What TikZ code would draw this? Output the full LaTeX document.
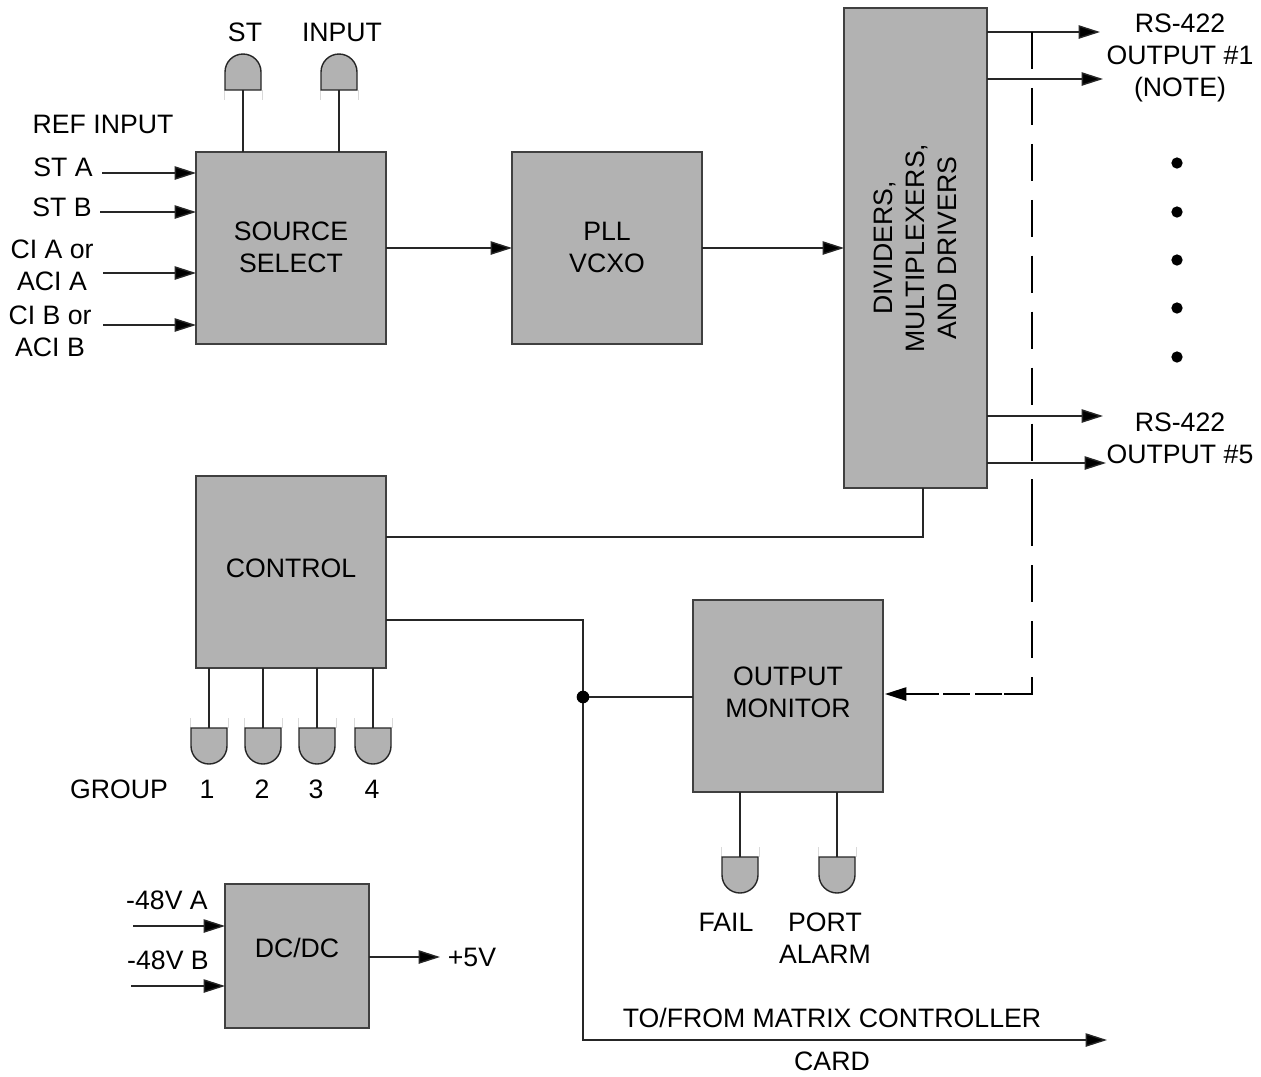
\documentclass[tikz,border=0pt]{standalone}
\usepackage{fontspec}
\setmainfont{Liberation Sans}
\usetikzlibrary{arrows.meta}
\newcommand{\ledup}[2]{% name, position: dome above the flat edge
  \coordinate (#1) at (#2);
  \draw[ledtick] (#1) ++(-19,0) -- ++(0,10);
  \draw[ledtick] (#1) ++(19,0) -- ++(0,10);
  \draw[led] (#1) ++(-18,0) -- ++(36,0) -- ++(0,-18) arc[start angle=0,end angle=180,radius=13.5pt] -- cycle;}
\newcommand{\leddown}[2]{% name, position: dome below the flat edge
  \coordinate (#1) at (#2);
  \draw[ledtick] (#1) ++(-19,0) -- ++(0,-10);
  \draw[ledtick] (#1) ++(19,0) -- ++(0,-10);
  \draw[led] (#1) ++(-18,0) -- ++(36,0) -- ++(0,18) arc[start angle=0,end angle=-180,radius=13.5pt] -- cycle;}
\tikzset{
  x=0.75pt,y=-0.75pt,
  every node/.style={font=\fontsize{20pt}{24pt}\selectfont,text=black,inner sep=0pt,outer sep=0pt,align=center},
  blockbox/.style={draw=black!75,line width=1.1pt,fill=boxgray,anchor=center},
  conn/.style={draw=black!85,line width=1.05pt},
  headtip/.style={-{Stealth[length=16pt,width=10pt,inset=0pt,fill=black]}},
  arr/.style={conn,headtip},
  dashline/.style={conn,draw=black,headtip,dash pattern=on 27.75pt off 14.2pt on 27.75pt off 14.2pt on 27.75pt off 14.2pt on 27.75pt off 14.2pt on 27.75pt off 14.2pt on 27.75pt off 14.2pt on 27.75pt off 14.2pt on 27.75pt off 14.2pt on 50.25pt off 14.25pt on 27.75pt off 14.25pt on 27.75pt off 14.25pt on 33.75pt off 1.5pt on 20.25pt off 3.75pt on 20.25pt off 3pt on 60pt off 1pt},
  led/.style={draw=black!85,line width=1.05pt,fill=boxgray},
  ledtick/.style={draw=black!15,line width=0.6pt},
  dotmark/.style={circle,fill=black,minimum size=9.5pt},
  smalldot/.style={circle,fill=black,minimum size=8.5pt},
}
\definecolor{boxgray}{HTML}{B2B2B2}
\begin{document}
\begin{tikzpicture}
\useasboundingbox (0,0) rectangle (1261,1076);
% blocks
\node[blockbox,minimum width=142.5pt,minimum height=144pt,label={[yshift=0.75pt]center:{SOURCE\\SELECT}}] (src) at (291,248) {};
\node[blockbox,minimum width=142.5pt,minimum height=144pt,label={[yshift=0.75pt]center:{PLL\\VCXO}}] (pll) at (607,248) {};
\node[blockbox,minimum width=107.25pt,minimum height=360pt,label={[rotate=90,xshift=0pt]center:{DIVIDERS,\\MULTIPLEXERS,\\AND DRIVERS}}] (div) at (915.5,248) {};
\node[blockbox,minimum width=142.5pt,minimum height=144pt,label={[yshift=3pt]center:{CONTROL}}] (ctl) at (291,572) {};
\node[blockbox,minimum width=142.5pt,minimum height=144pt,label={[yshift=3pt]center:{OUTPUT\\MONITOR}}] (mon) at (788,696) {};
\node[blockbox,minimum width=108pt,minimum height=108pt,label={[yshift=6pt]center:{DC/DC}}] (dc) at (297,956) {};
% indicator lamps
\ledup{lst}{243,90}
\ledup{lin}{339,90}
\leddown{g1}{209,728}
\leddown{g2}{263,728}
\leddown{g3}{317,728}
\leddown{g4}{373,728}
\leddown{lfail}{740,857}
\leddown{lport}{837,857}
\draw[conn] (lst) -- (lst |- src.north);
\draw[conn] (lin) -- (lin |- src.north);
\draw[conn] (g1) -- (g1 |- ctl.south);
\draw[conn] (g2) -- (g2 |- ctl.south);
\draw[conn] (g3) -- (g3 |- ctl.south);
\draw[conn] (g4) -- (g4 |- ctl.south);
\draw[conn] (lfail) -- (lfail |- mon.south);
\draw[conn] (lport) -- (lport |- mon.south);
% text labels
\node (tst) at (245,32) {ST};
\node (tinput) at (342,32) {INPUT};
\node (tref) at (103,124) {REF INPUT};
\node (tsta) at (63,167) {ST A};
\node (tstb) at (62,207) {ST B};
\node (tcia) at (52,265) {CI A or\\ACI A};
\node (tcib) at (50,331) {CI B or\\ACI B};
\node (tout1) at (1180,58) {RS-422\\OUTPUT \#1\\(NOTE)};
\node (tout5) at (1180,438) {RS-422\\OUTPUT \#5};
\node (tgroup) at (119,789) {GROUP};
\node (t1) at (207,789) {1};
\node (t2) at (262,789) {2};
\node (t3) at (316,789) {3};
\node (t4) at (372,789) {4};
\node (tfail) at (726,922) {FAIL};
\node (tport) at (825,938) {PORT\\ALARM};
\node (tma) at (167,900) {-48V A};
\node (tmb) at (168,960) {-48V B};
\node (t5v) at (472,957) {+5V};
\node (tmatrix) at (832,1018) {TO/FROM MATRIX CONTROLLER};
\node (tcard) at (832,1061) {CARD};
% output dots
\node[smalldot] (d1) at (1177,163) {};
\node[smalldot] (d2) at (1177,212) {};
\node[smalldot] (d3) at (1177,260) {};
\node[smalldot] (d4) at (1177,308) {};
\node[smalldot] (d5) at (1177,357) {};
% free ends
\coordinate (ia) at (102,173);
\coordinate (ib) at (100,212);
\coordinate (ic) at (103,273);
\coordinate (id) at (103,325);
\coordinate (oa) at (1100,32);
\coordinate (ob) at (1103,79);
\coordinate (oc) at (1103,416);
\coordinate (od) at (1106,463);
\coordinate (pa) at (133,926);
\coordinate (pb) at (131,986);
\coordinate (pc) at (440,957);
\coordinate (mx) at (1107,1040);
\coordinate (tap) at (1032,32);
\coordinate (corner) at (1032,694);
\coordinate (monin) at (885,694);
\coordinate (bus) at (583,620);
\coordinate (ctlout) at (923,537);
% connectors
\draw[arr] (ia) -- (ia -| src.west);
\draw[arr] (ib) -- (ib -| src.west);
\draw[arr] (ic) -- (ic -| src.west);
\draw[arr] (id) -- (id -| src.west);
\draw[arr] (src.east) -- (pll.west);
\draw[arr] (pll.east) -- (div.west);
\draw[arr] (oa -| div.east) -- (oa);
\draw[arr] (ob -| div.east) -- (ob);
\draw[arr] (oc -| div.east) -- (oc);
\draw[arr] (od -| div.east) -- (od);
\draw[conn] (ctlout -| ctl.east) -- (ctlout) -- (ctlout |- div.south);
\draw[arr] (bus -| ctl.east) -- (bus) -- (bus |- mx) -- (mx);
\node[dotmark] (junction) at (583,697) {};
\draw[conn] (junction) -- (junction -| mon.west);
\draw[dashline] (tap) -- (corner) -- (monin);
\draw[arr] (pa) -- (pa -| dc.west);
\draw[arr] (pb) -- (pb -| dc.west);
\draw[arr] (pc -| dc.east) -- (pc);
\end{tikzpicture}
\end{document}
